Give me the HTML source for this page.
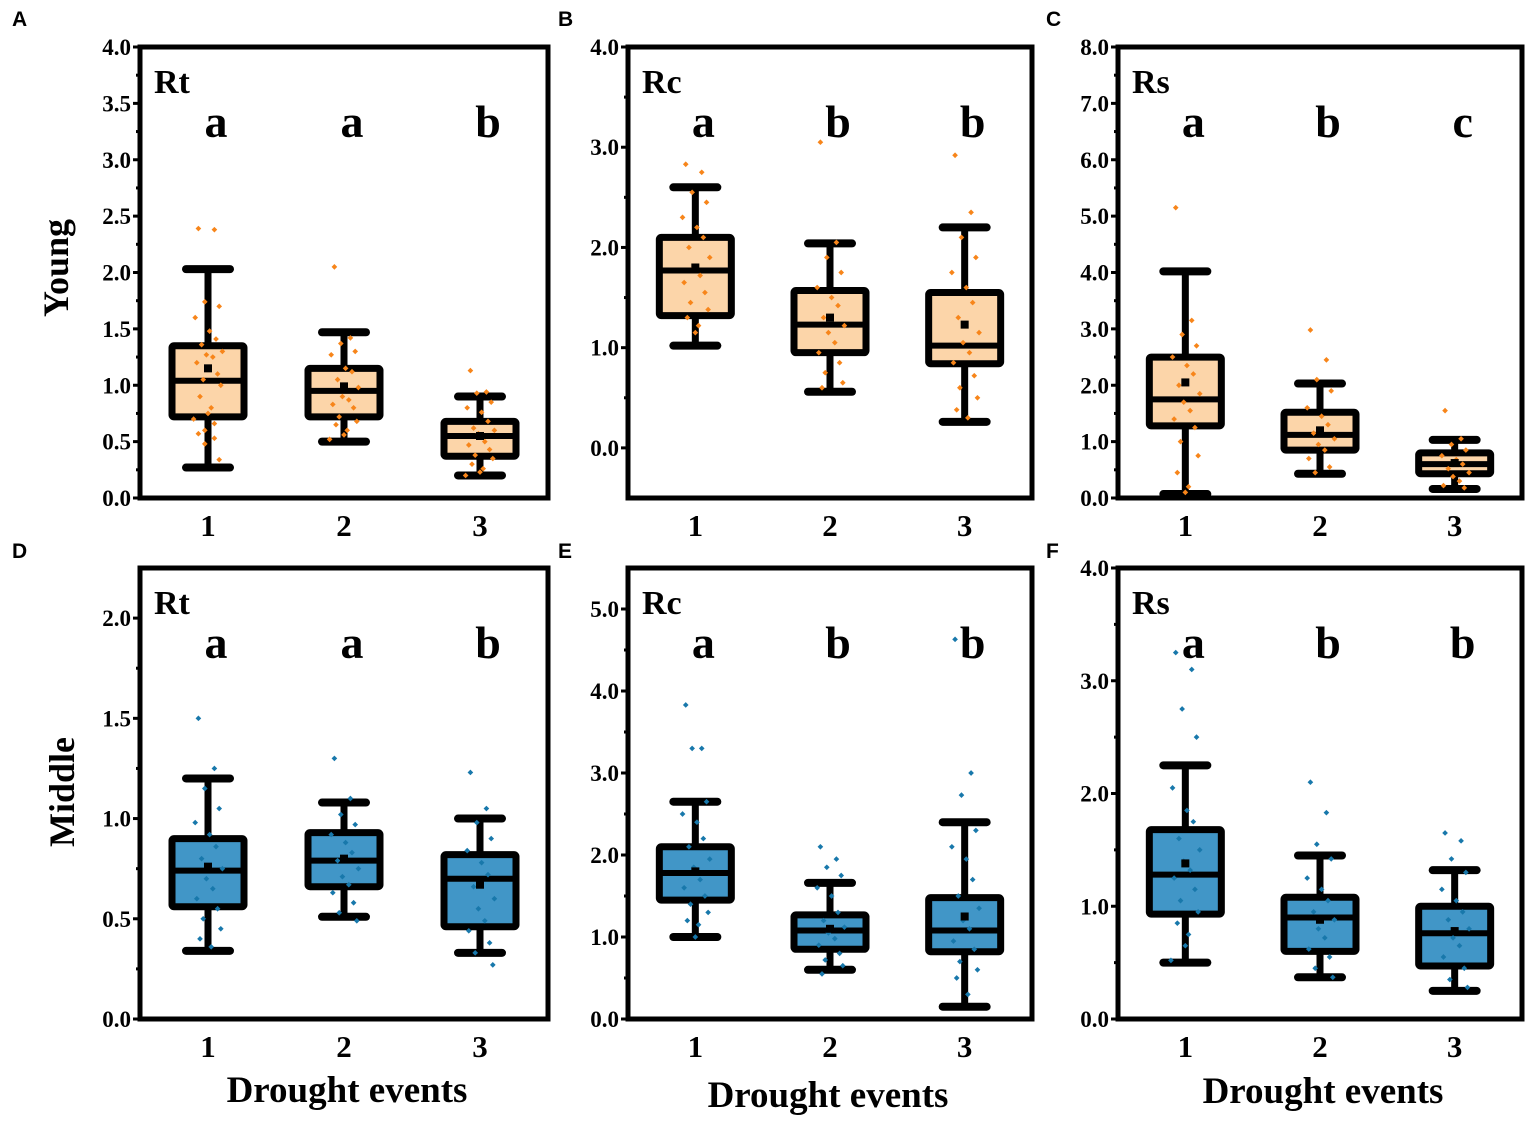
<!DOCTYPE html>
<html><head><meta charset="utf-8"><style>
html,body{margin:0;padding:0;background:#fff;}
svg{display:block;}
text{font-family:"Liberation Serif",serif;font-weight:bold;fill:#000;}
.pl{font-family:"Liberation Sans",sans-serif;font-size:21px;}
</style></head><body>
<svg id="fig" width="1535" height="1125" viewBox="0 0 1535 1125"></svg>
<script>
// ---- data ----
const categories = ["1","2","3"];
const panelIds = ["A","B","C","D","E","F"];
const panelTitles = ["Rt","Rc","Rs","Rt","Rc","Rs"];
const sigLetters = [["a","a","b"],["a","b","b"],["a","b","c"],["a","a","b"],["a","b","b"],["a","b","b"]];
const yMin = [0,-0.5,0,0,0,0];
const yMax = [4,4,8,2.25,5.5,4];
const tickValues = [[0,0.5,1,1.5,2,2.5,3,3.5,4],[0,1,2,3,4],[0,1,2,3,4,5,6,7,8],[0,0.5,1,1.5,2],[0,1,2,3,4,5],[0,1,2,3,4]];
const tickLabels = [["0.0","0.5","1.0","1.5","2.0","2.5","3.0","3.5","4.0"],["0.0","1.0","2.0","3.0","4.0"],["0.0","1.0","2.0","3.0","4.0","5.0","6.0","7.0","8.0"],["0.0","0.5","1.0","1.5","2.0"],["0.0","1.0","2.0","3.0","4.0","5.0"],["0.0","1.0","2.0","3.0","4.0"]];
// per panel, per group: [whiskerLow, Q1, median, Q3, whiskerHigh]
const boxStats = [
 [[0.27,0.72,1.04,1.35,2.03],[0.5,0.72,0.95,1.15,1.47],[0.2,0.37,0.55,0.68,0.9]],
 [[1.02,1.32,1.77,2.1,2.6],[0.56,0.95,1.23,1.57,2.04],[0.26,0.84,1.02,1.55,2.2]],
 [[0.07,1.28,1.75,2.5,4.02],[0.43,0.85,1.12,1.52,2.03],[0.16,0.43,0.6,0.8,1.03]],
 [[0.34,0.56,0.74,0.9,1.2],[0.51,0.66,0.79,0.93,1.08],[0.33,0.46,0.7,0.82,1.0]],
 [[1.0,1.45,1.78,2.1,2.65],[0.6,0.85,1.08,1.27,1.66],[0.15,0.82,1.08,1.48,2.4]],
 [[0.5,0.93,1.28,1.68,2.25],[0.37,0.6,0.9,1.08,1.45],[0.25,0.47,0.76,1.0,1.32]]
];
const means = [[1.15,0.99,0.55],[1.8,1.3,1.23],[2.05,1.2,0.62],[0.76,0.8,0.67],[1.8,1.1,1.25],[1.38,0.88,0.78]];
const points = [
 [[2.39,2.38,1.74,1.7,1.6,1.48,1.41,1.36,1.3,1.27,1.25,1.2,1.1,1.05,1.0,0.9,0.8,0.75,0.7,0.66,0.6,0.57,0.53,0.48,0.34],
  [2.05,1.42,1.37,1.3,1.27,1.15,1.12,1.05,0.98,0.9,0.87,0.83,0.8,0.72,0.68,0.65,0.6,0.56,0.52],
  [1.13,0.94,0.93,0.85,0.8,0.76,0.68,0.62,0.6,0.57,0.5,0.47,0.43,0.38,0.35,0.3,0.26,0.23,0.2]],
 [[2.83,2.75,2.55,2.45,2.3,2.2,2.1,2.0,1.9,1.8,1.72,1.65,1.55,1.45,1.38,1.3,1.22,1.15],
  [3.05,2.05,1.9,1.75,1.6,1.5,1.42,1.3,1.22,1.15,1.05,0.95,0.85,0.75,0.65,0.6],
  [2.92,2.35,2.1,1.9,1.75,1.6,1.45,1.3,1.15,1.05,0.95,0.85,0.72,0.6,0.5,0.38,0.3]],
 [[5.15,3.15,2.9,2.7,2.5,2.35,2.2,2.0,1.85,1.7,1.55,1.4,1.25,1.0,0.75,0.45,0.2,0.1],
  [2.98,2.45,2.1,1.9,1.6,1.45,1.3,1.15,1.05,0.95,0.85,0.7,0.55,0.45],
  [1.55,1.05,0.95,0.85,0.75,0.68,0.6,0.52,0.45,0.38,0.3,0.22,0.18]],
 [[1.5,1.25,1.15,1.05,0.98,0.92,0.86,0.8,0.75,0.7,0.65,0.6,0.55,0.5,0.45,0.4,0.36],
  [1.3,1.1,1.02,0.97,0.92,0.88,0.83,0.79,0.75,0.71,0.67,0.63,0.58,0.53,0.49],
  [1.23,1.05,0.98,0.9,0.84,0.78,0.72,0.66,0.6,0.55,0.49,0.44,0.38,0.33,0.27]],
 [[3.83,3.3,3.3,2.65,2.5,2.4,2.2,2.1,1.95,1.85,1.7,1.6,1.5,1.4,1.3,1.2,1.15,1.0],
  [2.1,1.95,1.85,1.75,1.6,1.5,1.3,1.2,1.12,1.05,0.98,0.9,0.8,0.72,0.65,0.55],
  [4.63,3.0,2.73,2.3,2.1,1.95,1.7,1.5,1.35,1.2,1.1,0.95,0.85,0.7,0.6,0.5,0.3]],
 [[3.25,3.1,2.75,2.5,2.05,1.85,1.75,1.6,1.5,1.4,1.32,1.25,1.15,1.05,0.95,0.85,0.75,0.65,0.52],
  [2.1,1.83,1.55,1.42,1.25,1.15,1.05,0.95,0.88,0.8,0.72,0.62,0.55,0.45,0.37],
  [1.65,1.58,1.42,1.3,1.15,1.05,0.95,0.88,0.8,0.72,0.65,0.55,0.45,0.35,0.28]]
];
// ---- layout ----
const frames = [[140,47,548,498],[628,47,1032,498],[1118,47,1522,498],[140,568,548,1019],[628,568,1032,1019],[1118,568,1522,1019]];
const labelPos = [[12,26],[558,26],[1046,26],[12,558],[558,558],[1046,558]];
const jitter = [-6,4,-2,7,-8,1,5,-4,9,-1,3,-7,6,-3,8,-5,2,0,-9,4,-2];
const NS="http://www.w3.org/2000/svg";
const svg=document.getElementById('fig');
function mk(tag,attrs,parent){const e=document.createElementNS(NS,tag);for(const k in attrs)e.setAttribute(k,attrs[k]);(parent||svg).appendChild(e);return e;}

panelIds.forEach((pid,p)=>{
  const [x0,y0,x1,y1]=frames[p];
  const g=mk('g',{});
  
  
  const yS=v=>y1-(v-yMin[p])/(yMax[p]-yMin[p])*(y1-y0);
  const xS=i=>x0+(i+0.5)/3*(x1-x0);
  const fill=p<3?'#fcd5a9':'#4196c7';
  const dot=p<3?'#f7851a':'#1878ab';
  const pl=mk('text',{x:labelPos[p][0],y:labelPos[p][1],class:'pl'},g);pl.textContent=pid;
  
  
  const ta=mk('g',{},g);
  
  
  tickValues[p].forEach((v,i)=>{
    const y=yS(v);
    mk('line',{x1:x0-7,x2:x0,y1:y,y2:y,stroke:'#000','stroke-width':3},ta);
    const t=mk('text',{x:x0-9,y:y+8,'text-anchor':'end','font-size':23},ta);t.textContent=tickLabels[p][i];
    
    
    if(i<tickValues[p].length-1){const ym=yS((v+tickValues[p][i+1])/2);mk('line',{x1:x0-4,x2:x0,y1:ym,y2:ym,stroke:'#000','stroke-width':3},ta);}
  });
  categories.forEach((c,i)=>{
    const [lo,q1,md,q3,hi]=boxStats[p][i];const cx=xS(i);
    const bg=mk('g',{},g);
    
    
    mk('line',{x1:cx,x2:cx,y1:yS(hi),y2:yS(lo),stroke:'#000','stroke-width':7},bg);
    mk('line',{x1:cx-22,x2:cx+22,y1:yS(hi),y2:yS(hi),stroke:'#000','stroke-width':8,'stroke-linecap':'round'},bg);
    mk('line',{x1:cx-22,x2:cx+22,y1:yS(lo),y2:yS(lo),stroke:'#000','stroke-width':8,'stroke-linecap':'round'},bg);
    mk('rect',{x:cx-36,y:yS(q3),width:72,height:yS(q1)-yS(q3),fill:fill,stroke:'#000','stroke-width':7,rx:2},bg);
    mk('line',{x1:cx-36,x2:cx+36,y1:yS(md),y2:yS(md),stroke:'#000','stroke-width':6},bg);
    points[p][i].forEach((v,k)=>{
      const d=mk('rect',{x:cx+jitter[k%jitter.length]*1.6-2,y:yS(v)-2,width:4,height:4,fill:dot,transform:`rotate(45 ${cx+jitter[k%jitter.length]*1.6} ${yS(v)})`},bg);
      
      
    });
    mk('rect',{x:cx-4,y:yS(means[p][i])-4,width:8,height:8,fill:'#000'},bg);
    const xl=mk('text',{x:cx,y:y1+38,'text-anchor':'middle','font-size':31},g);xl.textContent=c;
    
    
    const sl=mk('text',{x:cx+8,y:y0+90,'text-anchor':'middle','font-size':46},g);sl.textContent=sigLetters[p][i];
    
    
  });
  mk('rect',{x:x0,y:y0,width:x1-x0,height:y1-y0,fill:'none',stroke:'#000','stroke-width':5},g);
  const tt=mk('text',{x:x0+14,y:y0+46,'font-size':34},g);tt.textContent=panelTitles[p];
  
  
});
const yt1=mk('text',{x:0,y:0,'font-size':36,'text-anchor':'middle',transform:'translate(68,268) rotate(-90)'});yt1.textContent='Young';


const yt2=mk('text',{x:0,y:0,'font-size':36,'text-anchor':'middle',transform:'translate(74,792) rotate(-90)'});yt2.textContent='Middle';


[[347,1102],[828,1107],[1323,1103]].forEach(([x,y])=>{
  const t=mk('text',{x:x,y:y,'font-size':37,'text-anchor':'middle'});t.textContent='Drought events';
  
  
});
</script>
</body></html>
